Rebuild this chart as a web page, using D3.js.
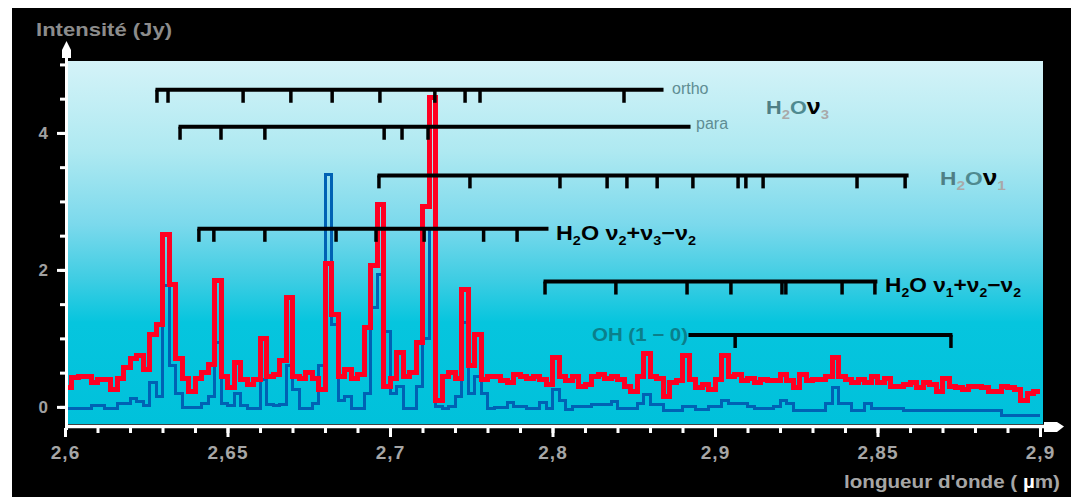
<!DOCTYPE html>
<html>
<head>
<meta charset="utf-8">
<script src="https://cdn.jsdelivr.net/npm/d3@7"></script>
<style>
  body { margin: 0; background: #fff; }
  svg { display: block; }
  text { font-family: "Liberation Sans", Arial, sans-serif; }
</style>
</head>
<body>
<div id="chart"></div>
<script>
// spectrum sampled every 0.002 µm from 2.600 to 2.900
let wlStart = 2.6
let wlStep = 0.002

let redValues = [
  0.28,0.43,0.45,0.45,0.35,0.40,0.40,0.25,0.42,0.58,
  0.70,0.75,0.55,1.05,1.20,2.52,1.78,0.70,0.42,0.22,
  0.42,0.50,0.62,1.85,0.45,0.28,0.65,0.40,0.32,0.40,
  1.00,0.45,0.48,0.68,1.60,0.45,0.42,0.50,0.42,0.25,
  2.10,1.35,0.45,0.55,0.42,0.48,1.16,2.07,2.95,0.30,
  0.42,0.80,0.45,0.50,0.94,2.93,4.52,0.10,0.45,0.50,
  0.42,1.71,0.60,1.05,0.40,0.45,0.45,0.38,0.35,0.48,
  0.45,0.42,0.45,0.40,0.32,0.72,0.45,0.38,0.45,0.30,
  0.32,0.45,0.48,0.42,0.45,0.40,0.30,0.22,0.45,0.78,
  0.45,0.42,0.15,0.35,0.38,0.75,0.40,0.28,0.32,0.25,
  0.40,0.75,0.45,0.48,0.38,0.42,0.35,0.40,0.38,0.38,
  0.48,0.38,0.28,0.48,0.38,0.40,0.40,0.45,0.72,0.45,
  0.40,0.36,0.40,0.36,0.45,0.35,0.42,0.30,0.30,0.32,
  0.35,0.28,0.35,0.33,0.22,0.42,0.30,0.28,0.25,0.30,
  0.30,0.28,0.22,0.22,0.30,0.28,0.25,0.10,0.20,0.22,0.22
]

let blueValues = [
  -0.02,-0.02,-0.02,-0.02,0.02,0.02,-0.02,-0.02,0.05,0.05,
  0.12,0.08,0.02,0.35,0.15,1.77,0.60,0.20,-0.01,-0.01,
  -0.01,0.05,0.15,0.94,0.05,0.02,0.20,0.02,-0.02,-0.02,
  0.40,0.03,0.02,0.03,0.60,0.25,-0.02,-0.02,0.05,0.60,
  3.40,1.20,0.10,0.15,-0.02,-0.02,0.20,1.45,1.93,1.10,
  0.20,0.30,-0.02,-0.02,0.30,1.00,2.60,0.00,-0.02,0.00,
  0.15,1.23,0.20,0.45,0.20,-0.02,-0.01,-0.01,0.07,0.00,
  0.00,-0.02,-0.02,0.07,-0.02,0.25,0.10,-0.04,0.00,0.00,
  0.00,0.03,0.03,0.03,0.08,-0.02,-0.02,-0.02,0.05,0.18,
  0.03,0.03,-0.06,-0.06,-0.06,0.00,0.00,-0.04,-0.04,0.00,
  0.00,0.10,0.05,0.05,0.05,0.00,-0.02,-0.02,-0.02,0.00,
  0.10,0.05,-0.05,-0.05,-0.05,-0.05,-0.05,0.05,0.28,0.05,
  0.05,-0.05,-0.05,0.05,-0.02,-0.02,-0.02,-0.02,-0.02,-0.05,
  -0.05,-0.05,-0.05,-0.05,-0.05,-0.05,-0.05,-0.05,-0.05,-0.05,
  -0.05,-0.05,-0.05,-0.05,-0.12,-0.12,-0.12,-0.12,-0.12,-0.12,-0.12
]

let xMajorTicks = [2.6, 2.65, 2.7, 2.75, 2.8, 2.85, 2.9]
let xTickLabels = ['2,6', '2,65', '2,7', '2,8', '2,9', '2,85', '2,9']
let yLabelTicks = [0, 2, 4]

// line identifications (µm) and the intensity level of each comb
let orthoLines = [2.6283, 2.6317, 2.6548, 2.6695, 2.6822, 2.6969, 2.7138, 2.7231, 2.7277, 2.7720]
let paraLines = [2.6354, 2.6480, 2.6615, 2.6982, 2.7037, 2.7117]
let nu1Lines = [2.6966, 2.7246, 2.7523, 2.7668, 2.7729, 2.7822, 2.7932, 2.8071, 2.8095, 2.8148, 2.8437, 2.8585]
let hot3Lines = [2.6412, 2.6458, 2.6615, 2.6834, 2.6957, 2.7105, 2.7288, 2.7391]
let hot1Lines = [2.7477, 2.7695, 2.7914, 2.8049, 2.8206, 2.8218, 2.8391, 2.8492]
let ohLines = [2.8062, 2.8726]

let combs = [
  {name: 'ortho', lines: orthoLines, start: 2.6283, end: 2.7837, level: 4.63},
  {name: 'para', lines: paraLines, start: 2.6354, end: 2.7920, level: 4.09},
  {name: 'nu1', lines: nu1Lines, start: 2.6966, end: 2.8591, level: 3.38},
  {name: 'hot3', lines: hot3Lines, start: 2.6412, end: 2.7483, level: 2.60},
  {name: 'hot1', lines: hot1Lines, start: 2.7477, end: 2.8495, level: 1.83},
  {name: 'oh', lines: ohLines, start: 2.7923, end: 2.8726, level: 1.05},
]

let margin = {top: 61, right: 31, bottom: 73, left: 65}
let width = 975
let height = 363

let svgRoot = d3.select('#chart')
  .append('svg')
  .attr('width', 1071)
  .attr('height', 497)

svgRoot.append('rect')
  .attr('x', 12).attr('y', 8)
  .attr('width', 1059).attr('height', 489)
  .attr('fill', '#000')

let defs = svgRoot.append('defs')
let grad = defs.append('linearGradient')
  .attr('id', 'bg')
  .attr('x1', 0).attr('y1', 0).attr('x2', 0).attr('y2', 1)
let stops = [[0, '#d4f3f8'], [0.25, '#aee9f1'], [0.45, '#7bd9ec'], [0.6, '#3fcde3'], [0.72, '#06c5de'], [1, '#00c1db']]
stops.forEach(s => grad.append('stop').attr('offset', s[0]).attr('stop-color', s[1]))

defs.append('clipPath').attr('id', 'plotclip')
  .append('rect').attr('x', 3).attr('y', 0).attr('width', width).attr('height', height)

let svg = svgRoot.append('g')
  .attr('transform', `translate(${margin.left}, ${margin.top})`)

let x = d3.scaleLinear().domain([2.6, 2.9]).range([0, width])
let y = d3.scaleLinear().domain([-0.25, 5.05]).range([height, 0])

svg.append('rect')
  .attr('x', 3).attr('y', 0)
  .attr('width', width).attr('height', height)
  .attr('fill', 'url(#bg)')

// spectra
let wavelengths = redValues.map((v, i) => wlStart + i * wlStep)
let line = d3.line()
  .x((d, i) => x(wavelengths[i]))
  .y(d => y(d))
  .curve(d3.curveStepAfter)

let spectra = svg.append('g').attr('clip-path', 'url(#plotclip)')
spectra.append('path')
  .attr('d', line(blueValues))
  .attr('fill', 'none')
  .attr('stroke', '#0062b4')
  .attr('stroke-width', 3)
  .attr('shape-rendering', 'crispEdges')
spectra.append('path')
  .attr('d', line(redValues))
  .attr('fill', 'none')
  .attr('stroke', '#ff0022')
  .attr('stroke-width', 5)
  .attr('shape-rendering', 'crispEdges')

// combs of line positions
combs.forEach(c => {
  let g = svg.append('g').attr('class', 'comb')
  g.append('line')
    .attr('x1', x(c.start) - 1.5).attr('x2', x(c.end) + 1.5)
    .attr('y1', y(c.level)).attr('y2', y(c.level))
    .attr('stroke', '#000').attr('stroke-width', 4)
  g.selectAll('.tick')
    .data(c.lines)
    .join('line')
    .attr('x1', d => x(d)).attr('x2', d => x(d))
    .attr('y1', y(c.level)).attr('y2', y(c.level) + 13)
    .attr('stroke', '#000').attr('stroke-width', 3.5)
})

// axes
let xMinor = d3.range(0, 31).map(i => 2.6 + i * 0.01)
svg.append('g')
  .attr('transform', `translate(0, ${height + 4})`)
  .call(d3.axisBottom(x).tickValues(xMinor).tickSize(5).tickFormat(''))
  .call(g => g.select('.domain').remove())
  .call(g => g.selectAll('line').attr('stroke', '#fff').attr('stroke-width', 3))

let xAxis = svg.append('g')
  .attr('transform', `translate(0, ${height + 4})`)
  .call(d3.axisBottom(x).tickValues(xMajorTicks).tickSize(9).tickFormat((d, i) => xTickLabels[i]))
xAxis.select('.domain').remove()
xAxis.selectAll('line').attr('stroke', '#fff').attr('stroke-width', 3)
xAxis.selectAll('text')
  .attr('y', 31).attr('dy', 0)
  .attr('fill', '#a6a6a6')
  .style('font-size', '19px')
  .style('font-weight', 'bold')
  .style('letter-spacing', '1px')

let yMinor = d3.range(0, 5.01, 0.5)
svg.append('g')
  .call(d3.axisLeft(y).tickValues(yMinor).tickSize(5).tickFormat(''))
  .call(g => g.select('.domain').remove())
  .call(g => g.selectAll('line').attr('stroke', '#fff').attr('stroke-width', 3))

let yAxis = svg.append('g')
  .call(d3.axisLeft(y).tickValues(yLabelTicks).tickSize(8).tickPadding(9).tickFormat(d3.format('d')))
yAxis.select('.domain').remove()
yAxis.selectAll('line').attr('stroke', '#fff').attr('stroke-width', 3)
yAxis.selectAll('text')
  .attr('fill', '#a0a0a0')
  .style('font-size', '17px')
  .style('font-weight', 'bold')

// axis lines with arrow heads
svg.append('line')
  .attr('x1', 1.5).attr('x2', 1.5)
  .attr('y1', -8).attr('y2', height + 6)
  .attr('stroke', '#fff').attr('stroke-width', 3)
svg.append('polygon')
  .attr('points', '1.5,-20 6,-11 6,-3 -3,-3 -3,-11')
  .attr('fill', '#fff')
svg.append('line')
  .attr('x1', 0).attr('x2', width + 20)
  .attr('y1', height + 2.5).attr('y2', height + 2.5)
  .attr('stroke', '#fff').attr('stroke-width', 3.5)
svg.append('polygon')
  .attr('points', `${width + 4},${height - 2} ${width + 17},${height - 2} ${width + 24},${height + 2.5} ${width + 17},${height + 8} ${width + 4},${height + 8}`)
  .attr('fill', '#fff')

// axis titles (absolute positions)
svgRoot.append('text')
  .attr('x', 36).attr('y', 36)
  .attr('textLength', 136).attr('lengthAdjust', 'spacingAndGlyphs')
  .attr('fill', '#8c8c8c')
  .style('font-size', '18px').style('font-weight', 'bold')
  .text('Intensité (Jy)')

let xt = svgRoot.append('text')
  .attr('x', 844).attr('y', 488)
  .attr('textLength', 216).attr('lengthAdjust', 'spacingAndGlyphs')
  .attr('fill', '#a6a6a6')
  .style('font-size', '19px').style('font-weight', 'bold')
xt.append('tspan').text("longueur d'onde ( ")
xt.append('tspan').attr('fill', '#fff').text('µ')
xt.append('tspan').text('m)')

// comb labels
function smallLabel(text, px, py, color) {
  svgRoot.append('text')
    .attr('x', px).attr('y', py)
    .attr('fill', color)
    .style('font-size', '16px')
    .text(text)
}
smallLabel('ortho', 672, 94, '#5f8d93')
smallLabel('para', 696, 129, '#5f8d93')

function waterLabel(px, py, sub, len) {
  let t = svgRoot.append('text')
    .attr('x', px).attr('y', py)
    .attr('textLength', len).attr('lengthAdjust', 'spacingAndGlyphs')
    .style('font-size', '19px').style('font-weight', 'bold')
  t.append('tspan').attr('fill', '#4f7f85').text('H')
  t.append('tspan').attr('fill', '#a9a9a9').attr('dy', 5).style('font-size', '13px').text('2')
  t.append('tspan').attr('fill', '#4f8a90').attr('dy', -5).text('O')
  t.append('tspan').attr('fill', '#000').style('font-size', '22px').text('ν')
  t.append('tspan').attr('fill', '#a9a9a9').attr('dy', 5).style('font-size', '13px').text(sub)
}
waterLabel(766, 114, '3', 63)
waterLabel(940, 185, '1', 66)

function hotLabel(px, py, parts, len) {
  let t = svgRoot.append('text')
    .attr('x', px).attr('y', py)
    .attr('textLength', len).attr('lengthAdjust', 'spacingAndGlyphs')
    .attr('fill', '#000')
    .style('font-size', '21px').style('font-weight', 'bold')
  parts.forEach(p => {
    t.append('tspan').attr('dy', p[1]).style('font-size', p[1] > 0 ? '13px' : null).text(p[0])
  })
}
hotLabel(556, 240, [['H', 0], ['2', 5], ['O ν', -5], ['2', 5], ['+ν', -5], ['3', 5], ['−ν', -5], ['2', 5]], 140)
hotLabel(885, 292, [['H', 0], ['2', 5], ['O ν', -5], ['1', 5], ['+ν', -5], ['2', 5], ['−ν', -5], ['2', 5]], 136)

svgRoot.append('text')
  .attr('x', 592).attr('y', 341)
  .attr('textLength', 96).attr('lengthAdjust', 'spacingAndGlyphs')
  .attr('fill', '#0b7f8b')
  .style('font-size', '18px').style('font-weight', 'bold')
  .text('OH (1 − 0)')
</script>
</body>
</html>
